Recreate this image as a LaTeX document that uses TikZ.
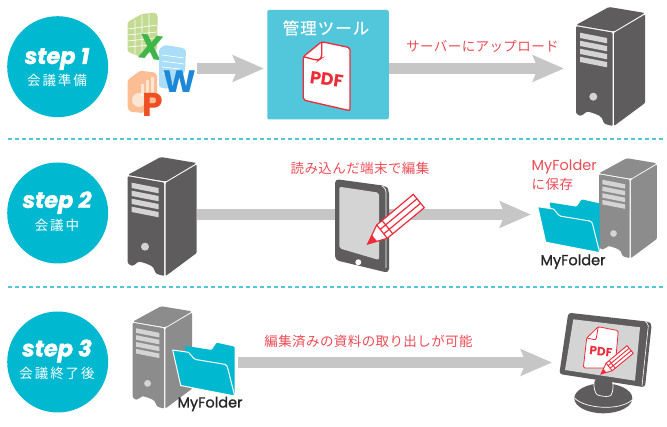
\documentclass[tikz,border=0pt]{standalone}
\usepackage{fontspec}
\usetikzlibrary{arrows.meta}
\setmainfont{Poppins}
\newfontfamily\jp[LetterSpace=3]{Noto Sans CJK JP}
\newfontfamily\jpwide[LetterSpace=14]{Noto Sans CJK JP}
\newfontfamily\jptool[LetterSpace=6,FakeBold=0.3]{Noto Sans CJK JP}
\newfontfamily\medf[FakeBold=1.2]{Poppins}
\newfontfamily\stepf[BoldItalicFeatures={FakeBold=1.6}]{Poppins}
\definecolor{teal}{HTML}{00B8D0}
\definecolor{boxc}{HTML}{52C6DA}
\definecolor{redt}{HTML}{EE4B55}
\definecolor{pdfred}{HTML}{EE2B38}
\definecolor{arrowc}{HTML}{C6C6C6}
\definecolor{darksv}{HTML}{5E5C5D}
\definecolor{graysv}{HTML}{8C8C8C}
\definecolor{scr}{HTML}{D4D4D4}
\definecolor{xlsheet}{HTML}{C3DA92}
\definecolor{xlgreen}{HTML}{3FB54A}
\definecolor{wdsheet}{HTML}{A9DDF8}
\definecolor{wdblue}{HTML}{1E88D8}
\definecolor{ppsheet}{HTML}{FBBE94}
\definecolor{ppred}{HTML}{F04E23}
\tikzset{
 x=1pt,y=-1pt,
 bigarrow/.style={draw=arrowc,line width=11pt,-{Stealth[length=31pt,width=26pt,inset=5pt]}},
 stepcircle/.style={circle,fill=teal,minimum size=101pt,inner sep=0pt},
 steptitle/.style={text=white,font=\stepf\fontsize{22.5}{22}\selectfont\bfseries\itshape,inner sep=0pt},
 stepsub/.style={text=white,font=\jpwide\fontsize{13.5}{14}\selectfont,inner sep=0pt},
 redlabel/.style={text=redt,font=\jp\fontsize{13.5}{14}\selectfont,inner sep=0pt},
 redlatin/.style={text=redt,font=\fontsize{14.5}{15}\selectfont,inner sep=0pt,anchor=west},
 folderlabel/.style={text=black!85,font=\medf\fontsize{14.5}{15}\selectfont,inner sep=0pt},
 divider/.style={draw=boxc,line width=1.6pt,dash pattern=on 4pt off 3pt},
 pics/server/.style={code={
  \fill[#1,rounded corners=1.5pt] (0,0)--(33,-18)--(69,-12)--(38,6.5)--cycle;
  \fill[#1,rounded corners=1pt] (0,1.2)--(36.5,7.6)--(36.5,101)--(29,99)--(27.3,97)
     .. controls (26,91) and (22,89.5) .. (12.3,86.7)
     .. controls (9,87) and (7,91) .. (3,90.5)--(0,88)--cycle;
  \fill[#1,rounded corners=1pt] (38,7.8)--(69,-10.5)--(69,78)--(38,101)--cycle;
  \foreach \k in {0,1,2,3}{
   \fill[scr] (4,7.7+8*\k)--(31,13+8*\k)--(31,18.3+8*\k)--(4,13+8*\k)--cycle;}
  \fill[scr] (17.3,71.7) circle (4);
 }},
 pics/folder/.style={code={
  \fill[teal,rounded corners=1pt] (11.7,-4.3)--(39,0)--(44,-7.3)--(62,-3.3)--(62,45)--(20,30)--cycle;
  \fill[teal,draw=white,line width=1pt,line join=round] (0,0)--(15.7,2.3)
     .. controls (19,4) and (19,8) .. (23,9.5)--(52,14.3)
     .. controls (54,15) and (54.5,16) .. (55,18)--(62,46)--(8,35.5)--cycle;
 }},
 pics/pencil/.style={code={
  \fill[white,draw=pdfred,line width=#1,line join=miter] (0,0)--(9,-19)--(45.6,-49.7)--(56.6,-36.3)--(19.6,-5.7)--cycle;
  \draw[pdfred,line width=#1] (9,-19)--(19.6,-5.7)
    (14.4,-23.5)--(25,-10.2)
    (12.5,-14.6)--(49.3,-45.2) (16,-10.1)--(52.9,-40.8);
  \fill[pdfred] (0,0)--(4.2,-9)--(9.3,-2.7)--cycle;
 }},
}
\begin{document}
\begin{tikzpicture}
\useasboundingbox (0,0) rectangle (667,427);
\fill[white] (0,0) rectangle (667,427);
% dividers
\coordinate (d1l) at (8,139); \coordinate (d1r) at (664,139);
\coordinate (d2l) at (8,287); \coordinate (d2r) at (664,287);
\draw[divider] (d1l)--(d1r);
\draw[divider] (d2l)--(d2r);
% circles
\node[stepcircle] (c1) at (57.7,66.7) {};
\node[stepcircle] (c2) at (57.7,213) {};
\node[stepcircle] (c3) at (57.7,362) {};
\node[steptitle] (s1) at (57,59) {step 1};
\node[stepsub] (s1b) at (57,80) {会議準備};
\node[steptitle] (s2) at (57,202.7) {step 2};
\node[stepsub] (s2b) at (57,225) {会議中};
\node[steptitle] (s3) at (57,351) {step 3};
\node[stepsub] (s3b) at (57,373) {会議終了後};
% arrows
\coordinate (a1s) at (197,68.5); \coordinate (a1e) at (264,68.5);
\coordinate (a2s) at (388,68.5); \coordinate (a2e) at (564,68.5);
\coordinate (a3s) at (197,214.5); \coordinate (a3e) at (531,214.5);
\coordinate (a4s) at (238,362.5); \coordinate (a4e) at (552,362.5);
\draw[bigarrow] (a1s)--(a1e);
\draw[bigarrow] (a2s)--(a2e);
\draw[bigarrow] (a3s)--(a3e);
\draw[bigarrow] (a4s)--(a4e);
% excel
\fill[xlsheet,rounded corners=1.5pt] (127.7,22)--(141.7,14)--(155,12.7)--(157.7,15)--(157,50)--(140,56.7)--(127.7,51.7)--cycle;
\draw[white,line width=.6pt] (128,29)--(157,25) (128,35)--(157,32) (128,41)--(155,38) (128,47)--(150,45)
  (135,20)--(135,54) (142,15)--(142,56) (149,14)--(149,40);
\node[inner sep=0pt,rotate=-8,text=xlgreen,font=\fontsize{34}{34}\selectfont\bfseries] (xl) at (150.7,47.3) {X};
% word
\fill[wdsheet,rounded corners=1.5pt] (159,49)--(165,45)--(183,48)--(186,50)--(185,72)--(167,89)--(159,87)--cycle;
\draw[white,line width=.7pt] (162,55)--(184,58) (162,61)--(184,64) (162,67)--(180,69) (162,73)--(170,74);
\node[inner sep=0pt,text=wdblue,font=\fontsize{31}{31}\selectfont\bfseries] (wd) at (180,82) {W};
% ppt
\fill[ppsheet,rounded corners=1.5pt] (127.7,80)--(140,70.7)--(155,72.5)--(157,75)--(157,100)--(143,113)--(130,111.7)--(127.7,108)--cycle;
\fill[white,opacity=.6] (141,84)--(144,84)--(144,96)--(141,96)--cycle (146,80)--(149,80)--(149,96)--(146,96)--cycle (151,77)--(154,77)--(154,96)--(151,96)--cycle;
\fill[white,opacity=.6] (139,100) circle (7);
\node[inner sep=0pt,text=ppred,font=\fontsize{33}{33}\selectfont\bfseries] (pp) at (152.7,105) {P};
% tool box
\node[fill=boxc,rounded corners=2pt,minimum width=121.5pt,minimum height=109.5pt,inner sep=0pt] (tool) at (328,64.7) {};
\node[inner sep=0pt,text=white,font=\jptool\fontsize{16.5}{17}\selectfont] (toolt) at (326,28) {管理ツール};
\fill[white,draw=pdfred,line width=1.3pt,rounded corners=2pt] (321.7,41.7)--(350,47.7)--(350,110.7)--(303.3,100)--(303.3,56.7)--cycle;
\draw[pdfred,line width=1.3pt,rounded corners=3pt] (303.3,56.7)--(318,60.5)--(321.7,58)--(321.7,41.7);
\node[inner sep=0pt,rotate=-8,text=pdfred,font=\fontsize{17.5}{17}\selectfont\bfseries] (pdf1) at (326.7,79.3) {PDF};
\node[redlabel] (l1) at (482.5,46.7) {サーバーにアップロード};
% server 1
\pic at (576,25) {server=darksv};
% step2 server
\pic at (127.7,175) {server=darksv};
% tablet
\fill[darksv,rounded corners=4pt] (335,179)--(386,186)--(389,190)--(389,273)--(335,260)--cycle;
\draw[white,line width=.7pt,rounded corners=3pt] (382,186)--(386,189)--(386,268);
\fill[scr,rounded corners=2pt] (339.3,186.7)--(379,192.7)--(379,260)--(339.3,248.3)--cycle;
\fill[white] (358.3,262.3) circle (3);
\pic at (367.7,244) {pencil=1.2pt};
\node[redlabel] (l2) at (360,168) {読み込んだ端末で編集};
% gray server + folder step 2
\pic[scale=.84] at (599,173.3) {server=graysv};
\pic at (537.7,206.7) {folder};
\node[redlatin] (l3) at (531.5,167) {MyFolder};
\node[redlabel,anchor=west] (l3b) at (531.5,184) {に保存};
\node[folderlabel] (f2) at (573,261.7) {MyFolder};
% step 3
\pic[scale=.86] at (132.7,321.7) {server=graysv};
\pic at (172.7,350) {folder};
\node[folderlabel] (f3) at (210,404) {MyFolder};
\node[redlabel] (l4) at (368.5,341) {編集済みの資料の取り出しが可能};
% monitor
\fill[darksv] (603.3,398.3) ellipse (29 and 15);
\draw[white,line width=.7pt] (574.5,398) .. controls (585,409) and (620,411) .. (632,400);
\fill[darksv,draw=white,line width=.7pt,rounded corners=4pt] (594,378)--(594,390) .. controls (598,397) and (610,397) .. (613,392)--(613,380)--cycle;
\fill[darksv,rounded corners=3pt] (568.3,312.7)--(648.3,321.7)--(651.7,324)--(645,387.3)--(559.3,374)--cycle;
\draw[white,line width=.6pt,rounded corners=2pt] (645,321.5)--(648.5,324)--(642,386);
\fill[scr] (573.3,319.3)--(640,327.3)--(635,380.7)--(565,370)--cycle;
\fill[white,draw=pdfred,line width=.8pt,rounded corners=1.5pt] (598.3,326.7)--(618.3,330.7)--(615,368)--(583.3,368)--(586.7,338)--cycle;
\draw[pdfred,line width=.8pt,rounded corners=2pt] (586.7,338)--(596,340)--(598.3,326.7);
\node[inner sep=0pt,rotate=-6,text=pdfred,font=\fontsize{12}{12}\selectfont\bfseries] (pdf2) at (601,351.7) {PDF};
\pic[scale=.57] at (601,374) {pencil=.9pt};
\end{tikzpicture}
\end{document}
